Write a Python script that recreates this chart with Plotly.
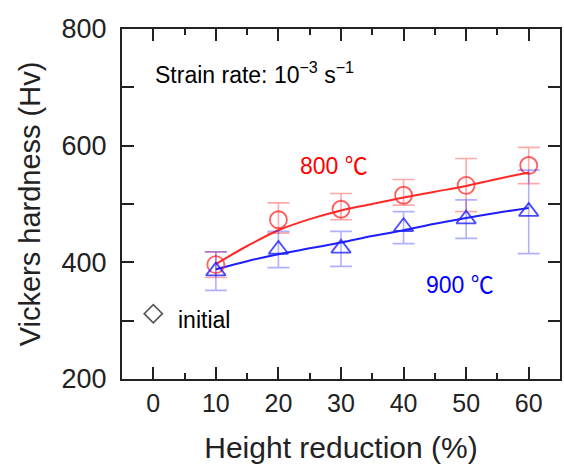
import plotly.graph_objects as go

# ---- data ----
reduction = [10, 20, 30, 40, 50, 60]

hv_800 = [396, 473, 491, 515, 532, 566]
err_800_plus = [22, 29, 27, 27, 46, 31]
err_800_minus = [22, 23, 18, 17, 45, 31]

hv_900 = [385, 422, 424, 461, 474, 487]
err_900_plus = [33, 31, 29, 26, 33, 71]
err_900_minus = [33, 31, 31, 29, 33, 72]

fit_x = [10, 15, 20, 25, 30, 35, 40, 45, 50, 55, 60]
fit_800 = [397, 428, 455, 474, 489, 500, 511, 521, 531, 543, 554]
fit_900 = [388, 402, 414, 424, 434, 445, 455, 466, 476, 485, 493]

initial_x = [0]
initial_hv = [312]

x_ticks = [0, 10, 20, 30, 40, 50, 60]
x_minor = [5, 15, 25, 35, 45, 55]
y_ticks = [200, 400, 600, 800]
y_minor = [300, 500, 700]

RED = "rgb(255,40,40)"
BLUE = "rgb(30,30,255)"
FONT = "Liberation Sans, Arial, sans-serif"
CJK = "Noto Sans CJK SC"

fig = go.Figure()

# fitted curves
fig.add_trace(go.Scatter(x=fit_x, y=fit_800, mode="lines",
                         line=dict(color=RED, width=2, shape="spline", smoothing=1.0),
                         showlegend=False, hoverinfo="skip"))
fig.add_trace(go.Scatter(x=fit_x, y=fit_900, mode="lines",
                         line=dict(color=BLUE, width=2, shape="spline", smoothing=1.0),
                         showlegend=False, hoverinfo="skip"))

# measured points with error bars
fig.add_trace(go.Scatter(
    x=reduction, y=hv_800, mode="markers", name="800 ℃",
    marker=dict(symbol="circle-open", size=17, color="rgba(255,40,40,0.75)",
                line=dict(width=1.8)),
    error_y=dict(type="data", array=err_800_plus, arrayminus=err_800_minus,
                 symmetric=False, color="rgba(255,40,40,0.4)", thickness=1.6, width=11),
    showlegend=False))
fig.add_trace(go.Scatter(
    x=reduction, y=hv_900, mode="markers", name="900 ℃",
    marker=dict(symbol="triangle-up-open", size=17, color="rgba(30,30,255,0.8)",
                line=dict(width=1.8)),
    error_y=dict(type="data", array=err_900_plus, arrayminus=err_900_minus,
                 symmetric=False, color="rgba(30,30,255,0.35)", thickness=1.6, width=11),
    showlegend=False))

fig.add_trace(go.Scatter(
    x=initial_x, y=initial_hv, mode="markers", name="initial",
    marker=dict(symbol="diamond-open", size=14, color="#555555", line=dict(width=1.6)),
    showlegend=False))

fig.add_annotation(x=0, y=725, xref="x", yref="y", xanchor="left", yanchor="middle",
                   text="Strain rate: 10<sup>−3</sup> s<sup>−1</sup>", showarrow=False,
                   font=dict(family=FONT, size=23, color="black"))
fig.add_annotation(x=23.1, y=568, xref="x", yref="y", xanchor="left", yanchor="middle",
                   text="800 <span style=\"font-family:" + CJK + "\">℃</span>", showarrow=False,
                   font=dict(family=FONT, size=23, color="red"))
fig.add_annotation(x=43.2, y=365, xref="x", yref="y", xanchor="left", yanchor="middle",
                   text="900 <span style=\"font-family:" + CJK + "\">℃</span>", showarrow=False,
                   font=dict(family=FONT, size=23, color="blue"))
fig.add_annotation(x=3.6, y=301, xref="x", yref="y", xanchor="left", yanchor="middle",
                   text="initial", showarrow=False,
                   font=dict(family=FONT, size=23, color="black"))

fig.update_layout(
    width=564, height=464,
    margin=dict(l=122, r=2, t=29, b=85),
    paper_bgcolor="white", plot_bgcolor="white",
    font=dict(family=FONT, color="#222222"),
)
fig.update_xaxes(
    range=[-5, 65], tickvals=x_ticks, ticks="inside", ticklen=12, tickwidth=2,
    tickcolor="#222222", showline=True, linewidth=2, linecolor="#222222",
    mirror="ticks", showgrid=False, zeroline=False,
    tickfont=dict(size=25, color="#222222"), ticklabelstandoff=1,
    minor=dict(tickvals=x_minor, ticks="inside", ticklen=6, tickwidth=2, tickcolor="#222222"),
    title=dict(text="Height reduction (%)", font=dict(size=30, color="#222222"), standoff=21),
)
fig.update_yaxes(
    range=[200, 800], tickvals=y_ticks, ticks="inside", ticklen=12,
    tickwidth=2, tickcolor="#222222", showline=True, linewidth=2, linecolor="#222222",
    mirror="ticks", showgrid=False, zeroline=False,
    tickfont=dict(size=27, color="#222222"), ticklabelstandoff=8,
    minor=dict(tickvals=y_minor, ticks="inside", ticklen=12, tickwidth=2, tickcolor="#222222"),
    title=dict(text="Vickers hardness (Hv)", font=dict(size=29, color="#222222"), standoff=12),
)

fig.write_html("out.html")
